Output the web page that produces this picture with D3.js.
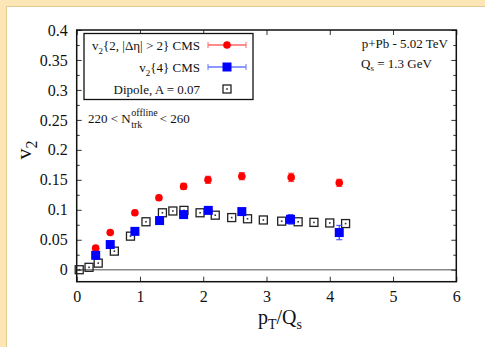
<!DOCTYPE html>
<html>
<head>
<meta charset="utf-8">
<script src="https://d3js.org/d3.v7.min.js"></script>
<style>
  body { margin: 0; background: #fce6b6; }
  svg text { font-family: "Liberation Serif", "DejaVu Serif", serif; fill: #111; }
</style>
</head>
<body>
<div id="chart"></div>
<script>
"use strict"

// v2{2, |deta|>2} CMS
const ptRed = [0.30, 0.53, 0.92, 1.30, 1.69, 2.075, 2.61, 3.39, 4.15];
const v2Red = [0.036, 0.062, 0.095, 0.120, 0.139, 0.150, 0.156, 0.154, 0.145];
const errRed = [0.003, 0.003, 0.004, 0.004, 0.005, 0.006, 0.006, 0.007, 0.006];

// v2{4} CMS
const ptBlue = [0.30, 0.53, 0.92, 1.31, 1.69, 2.08, 2.61, 3.38, 4.15];
const v2Blue = [0.024, 0.042, 0.064, 0.082, 0.092, 0.099, 0.097, 0.084, 0.062];
const errBlue = [0.002, 0.003, 0.003, 0.003, 0.004, 0.004, 0.005, 0.008, 0.012];

// Dipole, A = 0.07
const ptDip = [0.04, 0.195, 0.34, 0.595, 0.85, 1.095, 1.355, 1.52, 1.695, 1.95, 2.19, 2.45, 2.70, 2.95, 3.24, 3.50, 3.75, 4.0, 4.25];
const v2Dip = [0.000, 0.004, 0.011, 0.031, 0.056, 0.080, 0.095, 0.098, 0.099, 0.095, 0.091, 0.087, 0.085, 0.083, 0.081, 0.080, 0.079, 0.078, 0.077];

const xTicks = [0, 1, 2, 3, 4, 5, 6];
const yTicks = [0, 0.05, 0.1, 0.15, 0.2, 0.25, 0.3, 0.35, 0.4];

const W = 485, H = 347;
const svg = d3.select('#chart').append('svg')
  .attr('width', W).attr('height', H);

// white panel on beige frame
svg.append('rect').attr('x', 6.5).attr('y', 6.5).attr('width', W).attr('height', H)
  .attr('fill', 'white').attr('stroke', '#e3c992').attr('stroke-width', 1);

const L = 76.7, R = 456.3, T = 30, B = 281.7;
const x = d3.scaleLinear().domain([0, 6]).range([L, R]);
const y = d3.scaleLinear().domain([-0.02, 0.4]).range([B, T]);

// zero line
svg.append('line')
  .attr('x1', L).attr('x2', R).attr('y1', y(0)).attr('y2', y(0))
  .attr('stroke', '#888').attr('stroke-width', 1.5);

// axes with inward ticks
const fmtY = d => d === 0 ? '0' : String(d);
const yAx = svg.append('g').attr('transform', 'translate(' + L + ',0)')
  .call(d3.axisLeft(y).tickValues(yTicks).tickSize(-5).tickPadding(9).tickFormat(fmtY));
const xAx = svg.append('g').attr('transform', 'translate(0,' + B + ')')
  .call(d3.axisBottom(x).tickValues(xTicks).tickSize(-5).tickPadding(9).tickFormat(d3.format('d')));
svg.append('g').attr('transform', 'translate(' + R + ',0)')
  .call(d3.axisRight(y).tickValues(yTicks).tickSize(-5).tickFormat(''));
svg.append('g').attr('transform', 'translate(0,' + T + ')')
  .call(d3.axisTop(x).tickValues(xTicks).tickSize(-5).tickFormat(''));
// minor y ticks
const yMinor = yTicks.slice(0, -1).map(d => d + 0.025);
svg.append('g').attr('transform', 'translate(' + L + ',0)')
  .call(d3.axisLeft(y).tickValues(yMinor).tickSize(-3).tickFormat(''));
svg.append('g').attr('transform', 'translate(' + R + ',0)')
  .call(d3.axisRight(y).tickValues(yMinor).tickSize(-3).tickFormat(''));

svg.selectAll('.domain').remove();
svg.selectAll('.tick line').attr('stroke', '#333').attr('stroke-width', 1);
yAx.selectAll('text').style('font-size', '16px').style('font-family', '"Liberation Serif", serif').attr('fill', '#111');
xAx.selectAll('text').style('font-size', '16px').style('font-family', '"Liberation Serif", serif').attr('fill', '#111');

svg.append('rect').attr('x', L).attr('y', T).attr('width', R - L).attr('height', B - T)
  .attr('fill', 'none').attr('stroke', '#111').attr('stroke-width', 1.5);

// error bars
function errBars(pts, vals, errs, color) {
  const g = svg.append('g');
  pts.forEach((p, i) => {
    const cx = x(p), y1 = y(vals[i] - errs[i]), y2 = y(vals[i] + errs[i]);
    g.append('line').attr('x1', cx).attr('x2', cx).attr('y1', y1).attr('y2', y2)
      .attr('stroke', color).attr('stroke-width', 1.2);
    g.append('line').attr('x1', cx - 3).attr('x2', cx + 3).attr('y1', y1).attr('y2', y1)
      .attr('stroke', color).attr('stroke-width', 1);
    g.append('line').attr('x1', cx - 3).attr('x2', cx + 3).attr('y1', y2).attr('y2', y2)
      .attr('stroke', color).attr('stroke-width', 1);
  });
}

// dipole open squares with centre dot
function openSq(g, cx, cy) {
  g.append('rect').attr('x', cx - 4).attr('y', cy - 4).attr('width', 8).attr('height', 8)
    .attr('fill', 'none').attr('stroke', '#222').attr('stroke-width', 1.3);
  g.append('rect').attr('x', cx - 0.8).attr('y', cy - 0.8).attr('width', 1.6).attr('height', 1.6)
    .attr('fill', '#333');
}
const gd = svg.append('g');
ptDip.forEach((p, i) => openSq(gd, x(p), y(v2Dip[i])));

errBars(ptRed, v2Red, errRed, '#ff3333');
svg.append('g').selectAll('circle').data(ptRed).join('circle')
  .attr('cx', d => x(d)).attr('cy', (d, i) => y(v2Red[i])).attr('r', 3.8)
  .attr('fill', '#f00');

errBars(ptBlue, v2Blue, errBlue, '#3344ff');
svg.append('g').selectAll('rect').data(ptBlue).join('rect')
  .attr('x', d => x(d) - 4.5).attr('y', (d, i) => y(v2Blue[i]) - 4.5)
  .attr('width', 9).attr('height', 9).attr('fill', '#0000ff');

// legend
const lg = svg.append('g');
lg.append('rect').attr('x', 84).attr('y', 33.5).attr('width', 169).attr('height', 66)
  .attr('fill', 'white').attr('stroke', '#111').attr('stroke-width', 1.3);
const rows = [45, 67, 89];
const t1 = lg.append('text').attr('x', 200).attr('y', rows[0] + 5).attr('text-anchor', 'end').style('font-size', '13px');
t1.append('tspan').text('v');
t1.append('tspan').attr('dy', 4).style('font-size', '9px').text('2');
t1.append('tspan').attr('dy', -4).text('{2, |Δη| > 2} CMS');
const t2 = lg.append('text').attr('x', 200).attr('y', rows[1] + 5).attr('text-anchor', 'end').style('font-size', '13px');
t2.append('tspan').text('v');
t2.append('tspan').attr('dy', 4).style('font-size', '9px').text('2');
t2.append('tspan').attr('dy', -4).text('{4} CMS');
lg.append('text').attr('x', 200).attr('y', rows[2] + 5).attr('text-anchor', 'end').style('font-size', '13px')
  .text('Dipole, A = 0.07');
[['#ff6666', 0], ['#6677ff', 1]].forEach(([c, k]) => {
  const yy = rows[k];
  lg.append('line').attr('x1', 208).attr('x2', 246).attr('y1', yy).attr('y2', yy).attr('stroke', c).attr('stroke-width', 1.3);
  lg.append('line').attr('x1', 208).attr('x2', 208).attr('y1', yy - 3).attr('y2', yy + 3).attr('stroke', c);
  lg.append('line').attr('x1', 246).attr('x2', 246).attr('y1', yy - 3).attr('y2', yy + 3).attr('stroke', c);
});
lg.append('circle').attr('cx', 227).attr('cy', rows[0]).attr('r', 3.8).attr('fill', '#f00');
lg.append('rect').attr('x', 222.5).attr('y', rows[1] - 4.5).attr('width', 9).attr('height', 9).attr('fill', '#00f');
openSq(lg, 227, rows[2]);

// annotations
const a1 = svg.append('text').attr('x', 88).attr('y', 123).style('font-size', '13px').text('220 < N');
const ax1 = 88 + a1.node().getComputedTextLength() + 0.5;
const sup = svg.append('text').attr('x', ax1).attr('y', 116).style('font-size', '10px').text('offline');
svg.append('text').attr('x', ax1).attr('y', 128).style('font-size', '10px').text('trk');
svg.append('text').attr('x', ax1 + sup.node().getComputedTextLength() + 2).attr('y', 123)
  .style('font-size', '13px').text('< 260');

svg.append('text').attr('x', 448).attr('y', 48).attr('text-anchor', 'end').style('font-size', '13px')
  .text('p+Pb - 5.02 TeV');
const tq = svg.append('text').attr('x', 361).attr('y', 68).style('font-size', '13px');
tq.append('tspan').text('Q');
tq.append('tspan').attr('dy', 3).style('font-size', '9px').text('s');
tq.append('tspan').attr('dy', -3).text(' = 1.3 GeV');

// axis titles
const yl = svg.append('text').attr('transform', 'translate(31,150) rotate(-90)')
  .attr('text-anchor', 'middle').style('font-size', '22px');
yl.append('tspan').text('v');
yl.append('tspan').attr('dy', 6).style('font-size', '16px').text('2');

const xl = svg.append('text').attr('x', 280).attr('y', 324).attr('text-anchor', 'middle').style('font-size', '20px');
xl.append('tspan').text('p');
xl.append('tspan').attr('dy', 5).style('font-size', '14px').text('T');
xl.append('tspan').attr('dy', -5).text('/Q');
xl.append('tspan').attr('dy', 5).style('font-size', '14px').text('s');
</script>
</body>
</html>
